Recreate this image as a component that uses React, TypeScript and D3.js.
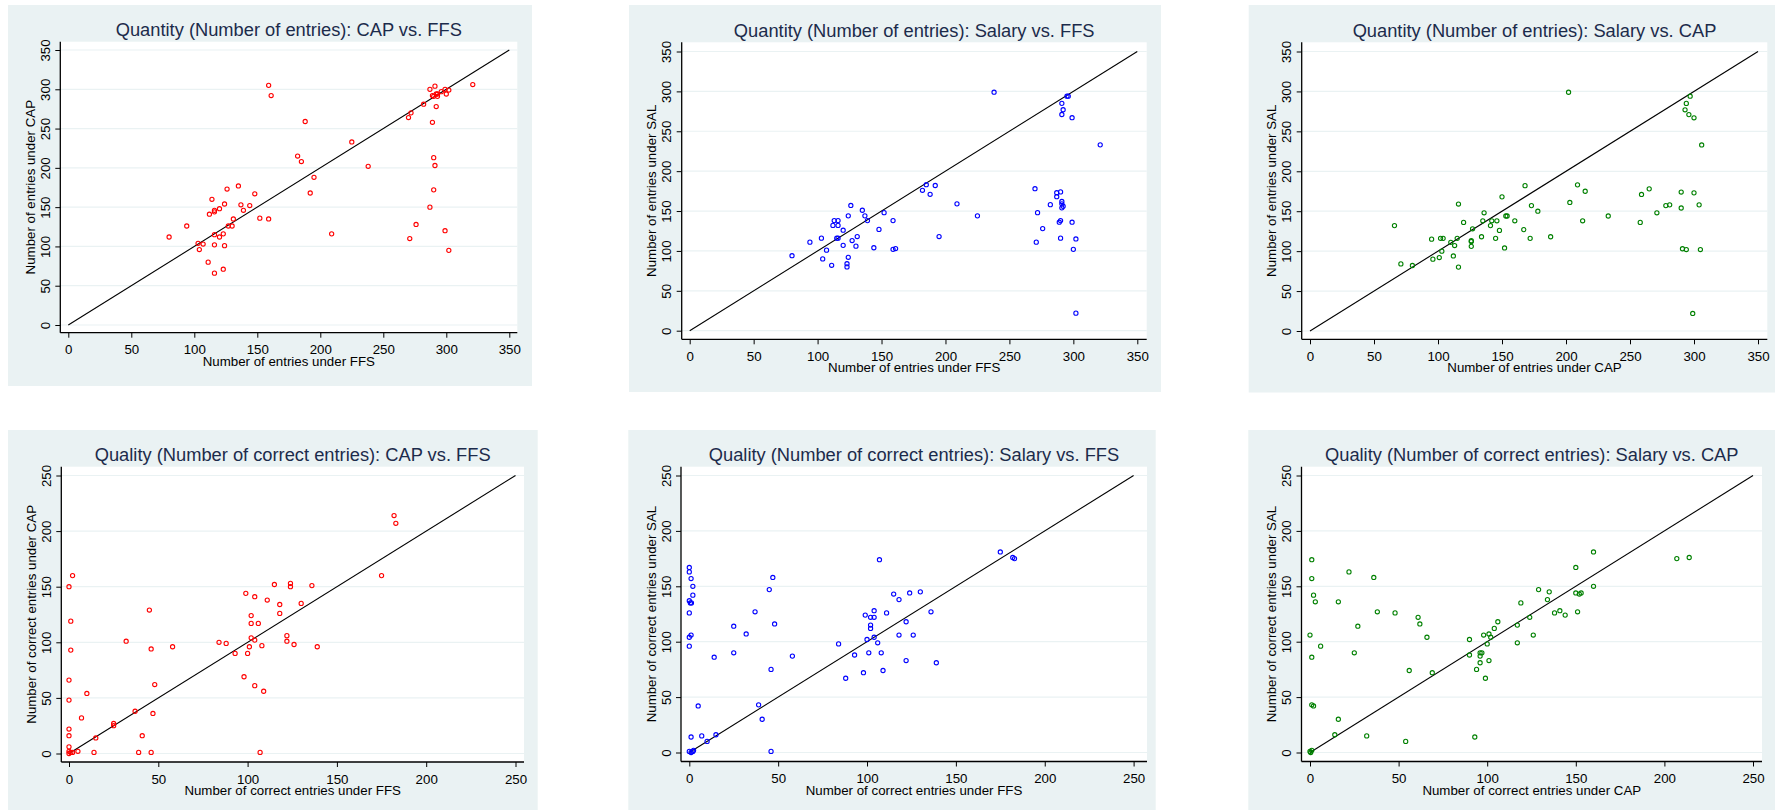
import React, { useRef, useEffect } from "react";
import * as d3 from "d3";

// values, [x, y] per entry
const capVsFfsQty = [
  [80, 112], [94, 126], [103, 104], [104, 96], [107, 103], [111, 80], [112, 141], [114, 160],
  [116, 144], [116, 146], [116, 115], [116, 102], [116, 66], [120, 148], [120, 112], [123, 116],
  [123, 71], [124, 154], [124, 101], [126, 173], [127, 126], [130, 126], [131, 135], [135, 177],
  [137, 153], [139, 146], [144, 152], [148, 167], [152, 136], [159, 135], [159, 305], [161, 292],
  [182, 215], [185, 208], [188, 259], [192, 168], [195, 188], [209, 116], [225, 233], [238, 202],
  [270, 264], [272, 270], [271, 110], [276, 128], [282, 281], [287, 300], [287, 150], [289, 258],
  [290, 213], [290, 172], [291, 203], [291, 304], [290, 291], [292, 294], [292, 278], [293, 294],
  [296, 297], [299, 300], [300, 294], [302, 299], [299, 120], [302, 95], [321, 306], [289, 292],
  [293, 291],
];

const salVsFfsQty = [
  [80, 94], [94, 111], [103, 116], [104, 90], [107, 101], [111, 82], [112, 132], [113, 138],
  [116, 138], [116, 132], [115, 116], [116, 116], [120, 126], [120, 107], [123, 84], [123, 80],
  [124, 92], [124, 144], [126, 157], [127, 113], [130, 106], [131, 118], [135, 151], [137, 144],
  [139, 138], [144, 104], [148, 127], [152, 148], [159, 138], [159, 102], [161, 103], [182, 176],
  [185, 183], [188, 171], [192, 182], [195, 118], [209, 159], [225, 144], [238, 299], [270, 178],
  [271, 111], [272, 148], [276, 128], [282, 158], [287, 173], [287, 168], [290, 174], [289, 136],
  [290, 138], [290, 116], [291, 162], [291, 159], [292, 156], [291, 154], [291, 285], [292, 277],
  [291, 271], [295, 294], [296, 294], [299, 267], [299, 136], [300, 102], [302, 115], [302, 22],
  [321, 233],
];

const salVsCapQty = [
  [66, 132], [71, 84], [80, 82], [95, 115], [96, 90], [101, 92], [102, 116], [104, 116],
  [103, 100], [110, 111], [112, 94], [113, 107], [115, 116], [116, 80], [116, 159], [120, 136],
  [126, 113], [126, 112], [126, 106], [127, 128], [134, 118], [135, 138], [136, 148], [141, 132],
  [142, 138], [146, 138], [145, 116], [148, 126], [150, 168], [152, 104], [153, 144], [154, 144],
  [160, 138], [167, 127], [168, 182], [172, 116], [173, 157], [178, 150], [188, 118], [202, 299],
  [203, 161], [209, 183], [213, 138], [215, 175], [233, 144], [258, 136], [259, 171], [265, 178],
  [271, 148], [278, 157], [281, 158], [290, 174], [290, 154], [291, 103], [294, 102], [293, 277],
  [294, 285], [296, 271], [297, 294], [300, 267], [300, 173], [304, 158], [305, 102], [306, 233],
  [299, 22],
];

const capVsFfsQual = [
  [0, 150], [2, 160], [1, 119], [1, 93], [0, 66], [0, 48], [0, 22], [0, 16], [0, 6], [0, 2],
  [0, 0], [1, 1], [2, 1], [5, 2], [7, 32], [10, 54], [14, 1], [15, 14], [25, 27], [25, 25],
  [32, 101], [37, 38], [39, 1], [41, 16], [45, 129], [46, 94], [46, 1], [47, 36], [48, 62],
  [58, 96], [84, 100], [88, 99], [93, 90], [98, 69], [99, 144], [100, 90], [101, 96], [102, 124],
  [102, 117], [102, 104], [104, 102], [104, 141], [104, 61], [106, 117], [107, 1], [108, 97],
  [109, 56], [111, 138], [115, 152], [118, 134], [118, 126], [122, 106], [122, 101], [124, 153],
  [124, 150], [126, 98], [130, 135], [136, 151], [139, 96], [175, 160], [182, 214], [183, 207],
];

const salVsFfsQual = [
  [0, 167], [0, 163], [1, 157], [2, 150], [2, 142], [0, 137], [0.6, 135], [1.2, 135], [0, 126],
  [1, 106], [0, 104], [0, 96], [1, 14], [0, 1], [1, 0], [2, 1], [2.4, 2], [5, 42], [7, 15],
  [10, 10], [14, 86], [15, 16], [25, 114], [25, 90], [32, 107], [37, 127], [39, 43], [41, 30],
  [45, 147], [46, 75], [46, 1], [47, 158], [48, 116], [58, 87], [84, 98], [88, 67], [93, 88],
  [98, 72], [99, 124], [100, 102], [101, 90], [102, 122], [102, 115], [102, 112], [104, 122],
  [104, 128], [104, 104], [106, 99], [108, 90], [107, 174], [109, 74], [111, 126], [115, 143],
  [118, 138], [118, 106], [122, 118], [122, 83], [124, 144], [126, 106], [130, 145], [136, 127],
  [139, 81], [175, 181], [182, 176], [183, 175],
];

const salVsCapQual = [
  [1, 174], [1, 157], [2, 142], [3, 136], [0, 106], [1, 86], [1, 43], [2, 42], [0, 1], [1, 2],
  [0.4, 0], [6, 96], [14, 16], [16, 136], [16, 30], [22, 163], [25, 90], [27, 114], [32, 15],
  [36, 158], [38, 127], [48, 126], [54, 10], [56, 74], [61, 122], [62, 116], [66, 104], [69, 72],
  [90, 102], [90, 88], [93, 14], [94, 75], [96, 90], [96, 87], [96, 81], [97, 90], [98, 106],
  [99, 67], [100, 98], [101, 107], [101, 83], [102, 104], [104, 112], [106, 118], [117, 99],
  [117, 115], [119, 135], [124, 122], [126, 106], [129, 147], [134, 138], [135, 145], [138, 126],
  [141, 128], [144, 124], [150, 167], [150, 144], [151, 127], [152, 143], [153, 144], [160, 181],
  [160, 150], [207, 175], [214, 176],
];

const qtyTicks = [0, 50, 100, 150, 200, 250, 300, 350];
const qualTicks = [0, 50, 100, 150, 200, 250];

const titles = [
  "Quantity (Number of entries): CAP vs. FFS",
  "Quantity (Number of entries): Salary vs. FFS",
  "Quantity (Number of entries): Salary vs. CAP",
  "Quality (Number of correct entries): CAP vs. FFS",
  "Quality (Number of correct entries): Salary vs. FFS",
  "Quality (Number of correct entries): Salary vs. CAP",
];
const xTitles = [
  "Number of entries under FFS",
  "Number of entries under FFS",
  "Number of entries under CAP",
  "Number of correct entries under FFS",
  "Number of correct entries under FFS",
  "Number of correct entries under CAP",
];
const yTitles = [
  "Number of entries under CAP",
  "Number of entries under SAL",
  "Number of entries under SAL",
  "Number of correct entries under CAP",
  "Number of correct entries under SAL",
  "Number of correct entries under SAL",
];

const BG = "#eaf2f3";
const TITLE = "#1c2b4b";
const FONT = "'Liberation Sans', Arial, sans-serif";

// panel geometry in page pixels
const layouts = [
  { bg: [8, 5, 524, 381], ax: 60.3, right: 517.3, top: 41.7, ay: 332.7, xr: [68.3, 509.3], yr: [325, 50] },
  { bg: [629, 5, 532, 387], ax: 681.7, right: 1146.7, top: 42.3, ay: 339.3, xr: [689.7, 1137.3], yr: [330.7, 51.5] },
  { bg: [1248.7, 5, 527, 387.5], ax: 1301.7, right: 1767.3, top: 42.3, ay: 339.3, xr: [1310, 1758], yr: [331, 51.5] },
  { bg: [8, 430, 529.7, 380], ax: 61.3, right: 524, top: 466.7, ay: 762, xr: [69, 515.5], yr: [753.5, 475.5] },
  { bg: [628.3, 430, 527.4, 380], ax: 681, right: 1147, top: 466.7, ay: 761.5, xr: [689.3, 1133.6], yr: [752.5, 475.5] },
  { bg: [1248.3, 430, 527, 380], ax: 1301.5, right: 1762, top: 466.7, ay: 761.5, xr: [1310, 1753], yr: [752.5, 475.5] },
];

const panels = [
  { data: capVsFfsQty, ticks: qtyTicks, color: "#ff0000" },
  { data: salVsFfsQty, ticks: qtyTicks, color: "#0000ff" },
  { data: salVsCapQty, ticks: qtyTicks, color: "#008000" },
  { data: capVsFfsQual, ticks: qualTicks, color: "#ff0000" },
  { data: salVsFfsQual, ticks: qualTicks, color: "#0000ff" },
  { data: salVsCapQual, ticks: qualTicks, color: "#008000" },
];

const App = () => {
  const ref = useRef<SVGSVGElement | null>(null);

  useEffect(() => {
    const svg = d3.select(ref.current);
    svg.selectAll("*").remove();

    panels.forEach((p, i) => {
      const L = layouts[i];
      const max = p.ticks[p.ticks.length - 1];
      const x = d3.scaleLinear().domain([0, max]).range(L.xr);
      const y = d3.scaleLinear().domain([0, max]).range(L.yr);
      const g = svg.append("g");

      g.append("rect")
        .attr("x", L.bg[0]).attr("y", L.bg[1])
        .attr("width", L.bg[2]).attr("height", L.bg[3])
        .attr("fill", BG);

      g.append("rect")
        .attr("x", L.ax).attr("y", L.top)
        .attr("width", L.right - L.ax).attr("height", L.ay - L.top)
        .attr("fill", "#fff");

      // grid
      g.selectAll(".grid")
        .data(p.ticks)
        .enter()
        .append("line")
        .attr("x1", L.ax).attr("x2", L.right)
        .attr("y1", (d) => y(d)).attr("y2", (d) => y(d))
        .attr("stroke", BG).attr("stroke-width", 1.2);

      // 45 degree line
      g.append("line")
        .attr("x1", x(0)).attr("y1", y(0))
        .attr("x2", x(max)).attr("y2", y(max))
        .attr("stroke", "#000").attr("stroke-width", 1.1);

      g.selectAll(".pt")
        .data(p.data)
        .enter()
        .append("circle")
        .attr("cx", (d) => x(d[0]))
        .attr("cy", (d) => y(d[1]))
        .attr("r", 2.1)
        .attr("fill", "none")
        .attr("stroke", p.color)
        .attr("stroke-width", 1.1);

      const xAxis = g.append("g")
        .attr("transform", `translate(0,${L.ay})`)
        .call(d3.axisBottom(x).tickValues(p.ticks).tickSize(5).tickPadding(3).tickSizeOuter(0));
      xAxis.select(".domain").remove();
      xAxis.selectAll("line").attr("stroke", "#000").attr("stroke-width", 1);
      xAxis.selectAll("text")
        .attr("y", 21.5).attr("dy", 0)
        .attr("fill", "#000")
        .style("font-family", FONT).style("font-size", "13.3px");

      const yAxis = g.append("g")
        .attr("transform", `translate(${L.ax},0)`)
        .call(d3.axisLeft(y).tickValues(p.ticks).tickSize(5).tickSizeOuter(0));
      yAxis.select(".domain").remove();
      yAxis.selectAll("line").attr("stroke", "#000").attr("stroke-width", 1);
      yAxis.selectAll("text")
        .attr("x", 0).attr("dy", 0)
        .attr("transform", "translate(-10.3,0) rotate(-90)")
        .attr("text-anchor", "middle")
        .attr("fill", "#000")
        .style("font-family", FONT).style("font-size", "13.3px");

      // axis lines
      g.append("line")
        .attr("x1", L.ax).attr("x2", L.right)
        .attr("y1", L.ay).attr("y2", L.ay)
        .attr("stroke", "#000").attr("stroke-width", 1.3);
      g.append("line")
        .attr("x1", L.ax).attr("x2", L.ax)
        .attr("y1", L.top).attr("y2", L.ay)
        .attr("stroke", "#000").attr("stroke-width", 1.3);

      const cx = (L.ax + L.right) / 2;
      g.append("text")
        .attr("x", cx).attr("y", L.top - 5.7)
        .attr("text-anchor", "middle")
        .attr("fill", TITLE)
        .style("font-family", FONT).style("font-size", "18.3px")
        .text(titles[i]);

      g.append("text")
        .attr("x", cx).attr("y", L.ay + 33)
        .attr("text-anchor", "middle")
        .attr("fill", "#000")
        .style("font-family", FONT).style("font-size", "13.3px")
        .text(xTitles[i]);

      const cy = (L.top + L.ay) / 2;
      g.append("text")
        .attr("transform", `translate(${L.ax - 25.3},${cy}) rotate(-90)`)
        .attr("text-anchor", "middle")
        .attr("fill", "#000")
        .style("font-family", FONT).style("font-size", "13.3px")
        .text(yTitles[i]);
    });
  }, []);

  return (
    <svg
      ref={ref}
      width={1775}
      height={810}
      style={{ position: "absolute", left: 0, top: 0, background: "#fff" }}
    />
  );
};

export default App;
